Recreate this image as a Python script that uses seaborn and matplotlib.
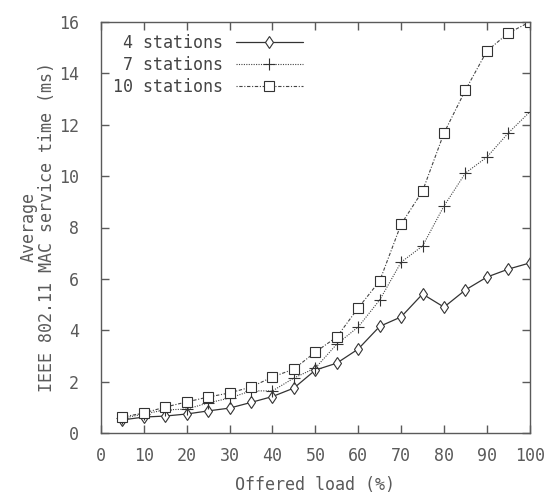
import numpy as np
import matplotlib
matplotlib.use("Agg")
import matplotlib.pyplot as plt
import seaborn as sns
import pandas as pd

# Données
load = [5, 10, 15, 20, 25, 30, 35, 40, 45, 50, 55, 60, 65, 70, 75, 80, 85, 90, 95, 100]
st4 = [0.51, 0.62, 0.66, 0.74, 0.86, 0.97, 1.19, 1.42, 1.75, 2.45, 2.72, 3.27, 4.15, 4.52, 5.41, 4.90, 5.57, 6.07, 6.38, 6.62]
st7 = [0.57, 0.74, 0.90, 0.93, 1.17, 1.36, 1.64, 1.64, 2.14, 2.53, 3.46, 4.13, 5.18, 6.65, 7.28, 8.84, 10.12, 10.74, 11.68, 12.50]
st10 = [0.62, 0.78, 1.01, 1.21, 1.40, 1.56, 1.79, 2.18, 2.49, 3.15, 3.74, 4.87, 5.92, 8.13, 9.42, 11.68, 13.35, 14.87, 15.57, 16.00]
labels = [" 4 stations", " 7 stations", "10 stations"]

df = pd.DataFrame({
    "load": load * 3,
    "time": st4 + st7 + st10,
    "series": [labels[0]] * len(load) + [labels[1]] * len(load) + [labels[2]] * len(load),
})

sns.set_style("ticks")
plt.rcParams["font.family"] = ["DejaVu Sans Mono"]
grey = "#5a5a5a"

fig = plt.figure(figsize=(5.53, 5.0), dpi=100)
ax = fig.add_axes([0.1826, 0.134, 0.958 - 0.1826, 0.956 - 0.134])

styles = {
    labels[0]: dict(marker="d", linestyle="-", color="#333333", lw=0.9, ms=6),
    labels[1]: dict(marker="+", linestyle=(0, (1, 1.2)), color="#444444", lw=0.8, ms=8),
    labels[2]: dict(marker="s", linestyle=(0, (1, 1.5, 3, 1.5)), color="#444444", lw=0.8, ms=6.5),
}
for name in labels:
    s = styles[name]
    sns.lineplot(data=df[df.series == name], x="load", y="time", ax=ax, label=name,
                 marker=s["marker"], linestyle=s["linestyle"], color=s["color"],
                 linewidth=s["lw"], markersize=s["ms"], markerfacecolor="white",
                 markeredgecolor="#333333", markeredgewidth=0.8)

ax.set_xlim(0, 100)
ax.set_ylim(0, 16)
ax.set_xticks(np.arange(0, 101, 10))
ax.set_yticks(np.arange(0, 17, 2))
ax.tick_params(direction="in", length=6, width=1, colors=grey, labelcolor=grey,
               labelsize=12, top=True, right=True, pad=10)
ax.tick_params(axis="y", pad=16)
for sp in ax.spines.values():
    sp.set_visible(True)
    sp.set_color(grey)
    sp.set_linewidth(1)

ax.set_xlabel("Offered load (%)", fontsize=12, color=grey, labelpad=8)
ax.set_ylabel("Average\nIEEE 802.11 MAC service time (ms)", fontsize=12, color=grey,
              labelpad=2, linespacing=1.0, multialignment="center")

leg = ax.legend(loc="upper left", frameon=False, markerfirst=False, fontsize=12,
                handlelength=4.0, labelspacing=0.25, borderaxespad=0.3,
                handletextpad=0.8, bbox_to_anchor=(0.0, 1.0))
for t in leg.get_texts():
    t.set_color("#444444")

fig.savefig("out.png", dpi=100)
